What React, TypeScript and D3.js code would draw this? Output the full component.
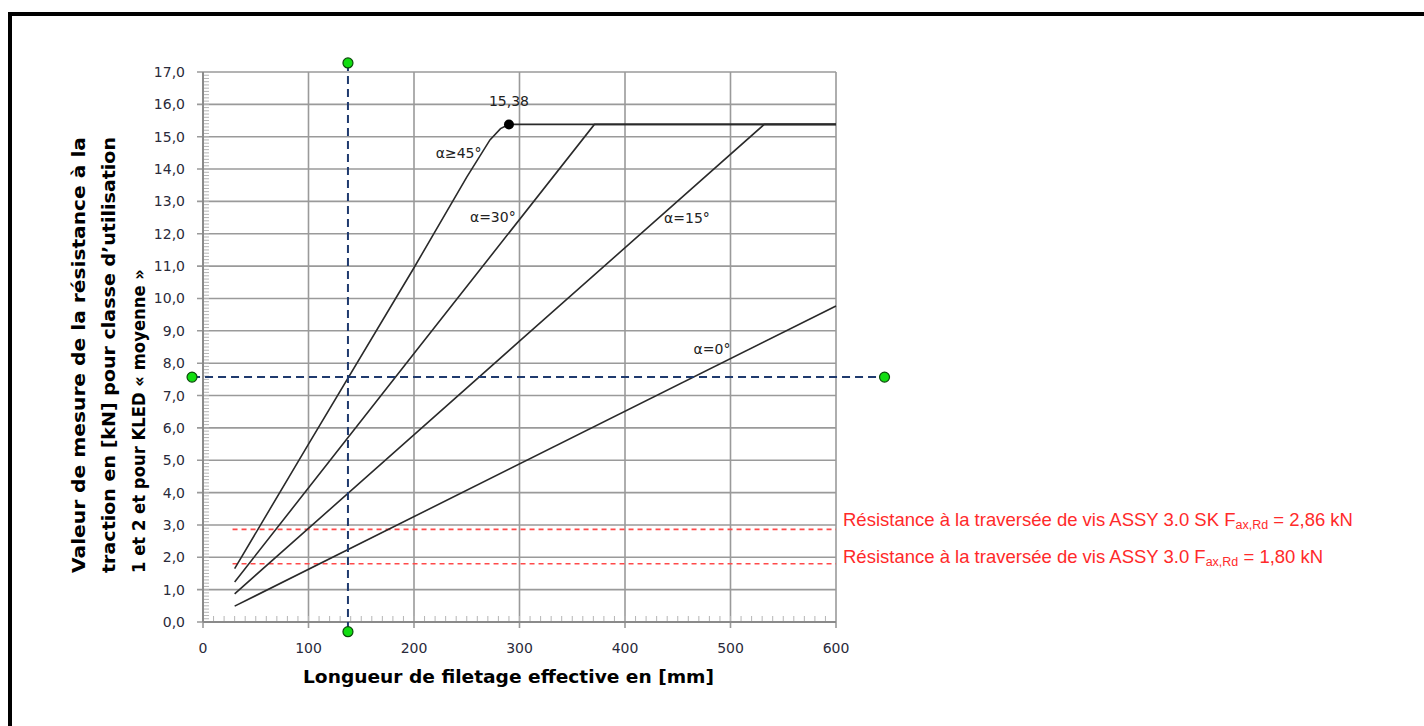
import * as d3 from "d3";
import React from "react";

// curves: [threaded length mm, kN]
const alpha45: [number, number][] = [[30, 1.65], [100, 5.5], [200, 10.95], [250, 13.75], [272, 14.9], [282, 15.25], [290, 15.38], [600, 15.38]];
const alpha30: [number, number][] = [[30, 1.24], [200, 8.3], [371, 15.38], [600, 15.38]];
const alpha15: [number, number][] = [[30, 0.87], [300, 8.68], [532, 15.38], [600, 15.38]];
const alpha0: [number, number][] = [[30, 0.49], [600, 9.77]];

const curveLabels = ["α≥45°", "α=30°", "α=15°", "α=0°"];
const peakValue = 15.38;
const peakX = 290;
const peakLabel = "15,38";

const redLimits = [2.86, 1.8];
const redLabelsMain = ["Résistance à la traversée de vis ASSY 3.0 SK F", "Résistance à la traversée de vis ASSY 3.0 F"];
const redLabelsTail = [" = 2,86 kN", " = 1,80 kN"];

const readX = 137.4;
const readY = 7.57;

const xTicks = [0, 100, 200, 300, 400, 500, 600];
const yTicks = d3.range(0, 18);

const yTitle = [
  "Valeur de mesure de la résistance à la",
  "traction en [kN] pour classe d’utilisation",
  "1 et 2 et pour KLED « moyenne »",
];
const xTitle = "Longueur de filetage effective en [mm]";

const W = 1424;
const H = 726;

export default function App() {
  const x = d3.scaleLinear([0, 600], [203, 836]);
  const y = d3.scaleLinear([0, 17], [622, 72]);
  const line = d3.line<[number, number]>().x(d => x(d[0])).y(d => y(d[1]));

  const minorY = d3.range(0, 170).map(i => i / 10);
  const minorX = d3.range(0, 60).map(i => i * 10);
  const grid = "#9a9a9a";
  const tickFont = "'DejaVu Sans', Tahoma, sans-serif";
  const green = (cx: number, cy: number, k: string) => (
    <circle key={k} cx={cx} cy={cy} r={5} fill="#11dd11" stroke="#0a4a0a" strokeWidth={1.2} />
  );

  return (
    <svg width={W} height={H} style={{ position: "absolute", left: 0, top: 0, background: "#fff" }}>
      {/* frame */}
      <line x1={10} y1={14} x2={W} y2={14} stroke="#000" strokeWidth={4} />
      <line x1={10} y1={12} x2={10} y2={H} stroke="#000" strokeWidth={4} />

      {/* grid */}
      {yTicks.map(t => (
        <line key={"gy" + t} x1={x(0) - 6} x2={x(600)} y1={y(t)} y2={y(t)} stroke={grid} strokeWidth={1.6} />
      ))}
      {xTicks.map(t => (
        <line key={"gx" + t} x1={x(t)} x2={x(t)} y1={y(17)} y2={y(0) + 6} stroke={grid} strokeWidth={1.6} />
      ))}
      {minorY.map(t => (
        <line key={"my" + t} x1={x(0)} x2={x(0) + 6} y1={y(t)} y2={y(t)} stroke="#b5b5b5" strokeWidth={1} />
      ))}
      {minorX.map(t => (
        <line key={"mx" + t} x1={x(t)} x2={x(t)} y1={y(0)} y2={y(0) - 6} stroke="#b5b5b5" strokeWidth={1} />
      ))}
      <line x1={x(0)} x2={x(0)} y1={y(17)} y2={y(0)} stroke="#8a8a8a" strokeWidth={2} />
      <line x1={x(0)} x2={x(600)} y1={y(0)} y2={y(0)} stroke="#8a8a8a" strokeWidth={2} />

      {/* tick labels */}
      {yTicks.map(t => (
        <text key={"ty" + t} x={185} y={y(t) + 5} textAnchor="end" fontFamily={tickFont} fontSize={14} fill="#2a2a3a">
          {t.toFixed(1).replace(".", ",")}
        </text>
      ))}
      {xTicks.map(t => (
        <text key={"tx" + t} x={x(t)} y={653} textAnchor="middle" fontFamily={tickFont} fontSize={14} fill="#2a2a3a">
          {t}
        </text>
      ))}

      {/* red limits */}
      {redLimits.map((v, i) => (
        <line key={"rl" + i} x1={x(28)} x2={x(600)} y1={y(v)} y2={y(v)} stroke="#ff4a4a" strokeWidth={1.7} strokeDasharray="5,4" />
      ))}

      {/* curves */}
      {[alpha45, alpha30, alpha15, alpha0].map((s, i) => (
        <path key={"c" + i} d={line(s) || ""} fill="none" stroke="#2a2a2a" strokeWidth={1.6} />
      ))}

      {/* reading lines */}
      <line x1={x(readX)} x2={x(readX)} y1={y(17.28)} y2={y(-0.3)} stroke="#1f3a6e" strokeWidth={2} strokeDasharray="8,5" />
      <line x1={x(-10.4)} x2={x(646)} y1={y(readY)} y2={y(readY)} stroke="#1f3a6e" strokeWidth={2} strokeDasharray="8,5" />
      {green(x(readX), y(17.28), "g1")}
      {green(x(readX), y(-0.3), "g2")}
      {green(x(-10.4), y(readY), "g3")}
      {green(x(646), y(readY), "g4")}

      {/* peak */}
      <circle cx={x(peakX)} cy={y(peakValue)} r={5} fill="#000" />
      <text x={x(peakX)} y={y(15.95)} textAnchor="middle" fontFamily={tickFont} fontSize={14} fill="#222">{peakLabel}</text>

      {/* curve labels */}
      <text x={x(264)} y={y(14.34)} textAnchor="end" fontFamily={tickFont} fontSize={14} fill="#222">{curveLabels[0]}</text>
      <text x={x(253)} y={y(12.36)} fontFamily={tickFont} fontSize={14} fill="#222">{curveLabels[1]}</text>
      <text x={x(437)} y={y(12.33)} fontFamily={tickFont} fontSize={14} fill="#222">{curveLabels[2]}</text>
      <text x={x(465)} y={y(8.28)} fontFamily={tickFont} fontSize={14} fill="#222">{curveLabels[3]}</text>

      {/* red labels */}
      {redLabelsMain.map((s, i) => (
        <text key={"rt" + i} x={843} y={i === 0 ? 526 : 563} fontFamily="'Liberation Sans', Arial, sans-serif" fontSize={18.5} fill="#ff2a2a">
          {s}
          <tspan fontSize={12.5} dy={3}>ax,Rd</tspan>
          <tspan dy={-3}>{redLabelsTail[i]}</tspan>
        </text>
      ))}

      {/* axis titles */}
      <g transform="translate(0,573) rotate(-90)">
        {yTitle.map((s, i) => (
          <text key={"yt" + i} x={0} y={85 + i * 30} fontFamily="'DejaVu Sans', Verdana, sans-serif" fontWeight="bold" fontSize={17} fill="#000"
            textLength={i === 2 ? 304 : 436} lengthAdjust="spacingAndGlyphs">
            {s}
          </text>
        ))}
      </g>
      <text x={303} y={683} fontFamily="'DejaVu Sans', Verdana, sans-serif" fontWeight="bold" fontSize={17} fill="#000"
        textLength={411} lengthAdjust="spacingAndGlyphs">
        {xTitle}
      </text>
    </svg>
  );
}
